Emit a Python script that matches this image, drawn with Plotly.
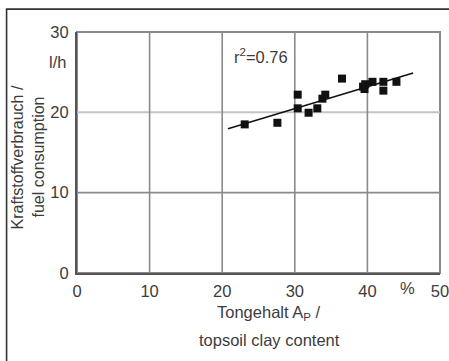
import plotly.graph_objects as go

# data
clay = [23.1, 27.6, 30.4, 30.4, 31.9, 33.1, 33.8, 34.2, 36.5, 39.4, 39.6, 39.7, 40.7, 42.2, 42.2, 44.0]
fuel = [18.5, 18.7, 22.2, 20.5, 19.95, 20.5, 21.7, 22.2, 24.2, 23.2, 22.9, 23.5, 23.8, 23.8, 22.7, 23.8]
fit_x = [20.8, 46.3]
fit_y = [17.95, 24.9]
x_ticks = [0, 10, 20, 30, 40, 50]
y_ticks = [0, 10, 20, 30]

FONT = "Liberation Sans, Arial, sans-serif"
TXT = "#3c3c3c"

fig = go.Figure()
fig.add_trace(go.Scatter(x=fit_x, y=fit_y, mode="lines",
                         line=dict(color="#111111", width=1.6), hoverinfo="skip"))
fig.add_trace(go.Scatter(x=clay, y=fuel, mode="markers",
                         marker=dict(symbol="square", size=8, color="#111111")))

# horizontal 20 line lighter
fig.add_shape(type="line", xref="x", yref="y", x0=0, x1=50, y0=20, y1=20,
              line=dict(color="#c4c4c4", width=2), layer="below")
for yv in [10]:
    fig.add_shape(type="line", xref="x", yref="y", x0=0, x1=50, y0=yv, y1=yv,
                  line=dict(color="#8a8a8a", width=1.6), layer="below")
for xv in [10, 20, 30, 40]:
    fig.add_shape(type="line", xref="x", yref="y", x0=xv, x1=xv, y0=0, y1=30,
                  line=dict(color="#8a8a8a", width=1.6), layer="below")
# plot border (top/right)
fig.add_shape(type="rect", xref="paper", yref="paper", x0=0, x1=1, y0=0, y1=1,
              line=dict(color="#8a8a8a", width=2), layer="below")
# outer frame
fig.add_shape(type="rect", xref="paper", yref="paper", x0=-0.194, x1=1.2, y0=-0.6, y1=1.095,
              line=dict(color="#333333", width=1.6))

ann = [
    dict(x=21.3, y=27.0, xref="x", yref="y", text="r<sup>2</sup>=0.76", showarrow=False,
         xanchor="left", yanchor="middle", font=dict(size=16.5)),
    dict(x=-0.055, y=0.875, xref="paper", yref="paper", text="l/h", showarrow=False,
         xanchor="center", yanchor="middle", font=dict(size=16.5)),
    dict(x=0.91, y=-0.062, xref="paper", yref="paper", text="%", showarrow=False,
         xanchor="center", yanchor="middle", font=dict(size=16.5)),
    dict(x=-0.165, y=0.48, xref="paper", yref="paper", text="Kraftstoffverbrauch /", showarrow=False,
         textangle=-90, xanchor="center", yanchor="middle", font=dict(size=16)),
    dict(x=-0.107, y=0.48, xref="paper", yref="paper", text="fuel consumption", showarrow=False,
         textangle=-90, xanchor="center", yanchor="middle", font=dict(size=16)),
    dict(x=0.53, y=-0.165, xref="paper", yref="paper", text="Tongehalt A<sub>P</sub> /", showarrow=False,
         xanchor="center", yanchor="middle", font=dict(size=16.5)),
    dict(x=0.53, y=-0.277, xref="paper", yref="paper", text="topsoil clay content", showarrow=False,
         xanchor="center", yanchor="middle", font=dict(size=16.5)),
]

fig.update_layout(
    width=449, height=361, autosize=False,
    margin=dict(l=77, r=9, t=32, b=88),
    paper_bgcolor="white", plot_bgcolor="white",
    showlegend=False,
    font=dict(family=FONT, color=TXT, size=16.5),
    annotations=ann,
    xaxis=dict(range=[0, 50], tickvals=x_ticks, showgrid=False, zeroline=False,
               showline=True, linecolor="#555555", linewidth=2.2, ticks="",
               tickfont=dict(size=16.5, color=TXT), ticklabelstandoff=2, automargin=False,
               ticklabeloverflow="allow"),
    yaxis=dict(range=[0, 30], tickvals=y_ticks, showgrid=False, zeroline=False,
               showline=True, linecolor="#555555", linewidth=2.2, ticks="",
               tickfont=dict(size=16.5, color=TXT), ticklabelstandoff=3, automargin=False,
               ticklabeloverflow="allow"),
)

fig.write_html("out.html", config={"displayModeBar": False},
               post_script="document.body.style.margin='0';")
